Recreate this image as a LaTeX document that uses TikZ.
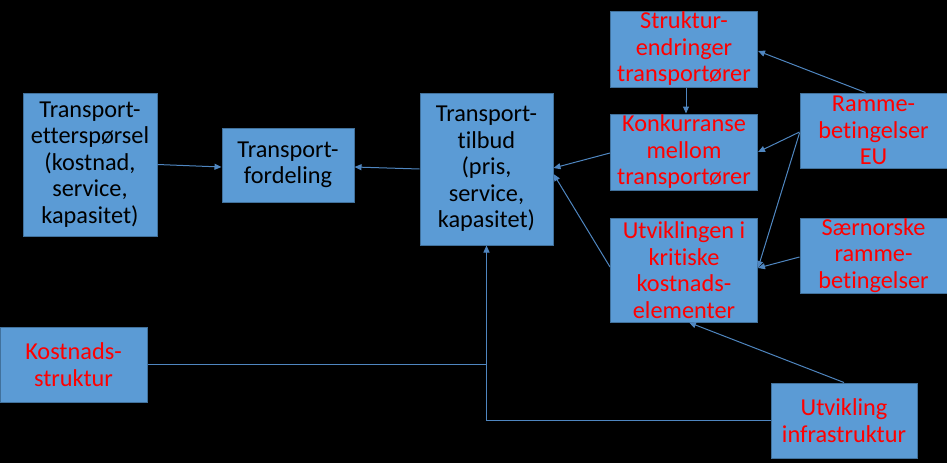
\documentclass[tikz,border=0pt]{standalone}
\usepackage{fontspec}
\setmainfont{Carlito}[Ligatures=NoCommon]
\usetikzlibrary{arrows.meta,calc}
\definecolor{boxfill}{HTML}{5B9BD5}
\definecolor{boxline}{HTML}{41719C}
\definecolor{conn}{HTML}{4F86C0}
\definecolor{redtxt}{HTML}{FF0000}
\tikzset{
  box/.style={draw=boxline, fill=boxfill, line width=1pt, inner sep=0pt},
  txt/.style={inner sep=0pt, align=center, font=\fontsize{24.3}{26.5}\selectfont},
  blk/.style={txt, text=black},
  rd/.style={txt, text=redtxt},
  conline/.style={draw=conn, line width=1pt},
  arr/.style={conline, -{Triangle[length=7pt,width=6pt]}}
}
\begin{document}
\begin{tikzpicture}[x=1pt,y=-1pt]
\fill[black] (0,0) rectangle (947,463);
\useasboundingbox (0,0) rectangle (947,463);
% boxes
\node[box, minimum width=134pt, minimum height=143pt] (ett) at (90,164.5) {};
\node[blk] (ettT) at (ett.center) {Transport-\\etterspørsel\\(kostnad,\\service,\\kapasitet)};
\node[box, minimum width=132pt, minimum height=74pt] (ford) at (288,165) {};
\node[blk] (fordT) at (ford.center) {Transport-\\fordeling};
\node[box, minimum width=133pt, minimum height=152pt] (tilb) at (486.5,169) {};
\node[blk] (tilbT) at (tilb.center) {Transport-\\tilbud\\(pris,\\service,\\kapasitet)};
\node[box, minimum width=147pt, minimum height=76pt] (strk) at (684,49) {};
\node[rd] (strkT) at (strk.center) {Struktur-\\endringer\\transportører};
\node[box, minimum width=147pt, minimum height=76pt] (konk) at (684,152) {};
\node[rd] (konkT) at (konk.center) {Konkurranse\\mellom\\transportører};
\node[box, minimum width=147pt, minimum height=104pt] (utv) at (684,270) {};
\node[rd] (utvT) at (utv.center) {Utviklingen i\\kritiske\\kostnads-\\elementer};
\node[box, minimum width=147pt, minimum height=75pt] (ramme) at (873.5,130.5) {};
\node[rd] (rammeT) at (ramme.center) {Ramme-\\betingelser\\EU};
\node[box, minimum width=147pt, minimum height=75pt] (saer) at (873.5,255.5) {};
\node[rd] (saerT) at (saer.center) {Særnorske\\ramme-\\betingelser};
\node[box, minimum width=147pt, minimum height=75pt] (kost) at (73.5,364.5) {};
\node[rd] (kostT) at (kost.center) {Kostnads-\\struktur};
\node[box, minimum width=146pt, minimum height=75pt] (infra) at (844,420.5) {};
\node[rd] (infraT) at (infra.center) {Utvikling\\infrastruktur};
% connectors
\draw[arr] (ett.east) -- ([yshift=-2pt]ford.west);
\draw[arr] (tilb.west) -- ([yshift=-2pt]ford.east);
\draw[arr] ([xshift=2pt]strk.south) -- ([xshift=2pt]konk.north);
\draw[arr] ([xshift=-8pt]ramme.north) -- ([yshift=-2pt]strk.east);
\draw[arr] ([yshift=-1.5pt]ramme.west) -- (konk.east);
\draw[arr] ([yshift=-2.5pt]ramme.west) -- ([yshift=2pt]utv.east);
\draw[arr] ([yshift=-1.5pt]saer.west) -- ([yshift=2pt]utv.east);
\draw[arr] ([yshift=-1pt]konk.west) -- ([yshift=1pt]tilb.east);
\draw[arr] ([yshift=3pt]utv.west) -- ([yshift=-5pt]tilb.east);
\draw[arr] (infra.north) -- ([xshift=5pt]utv.south);
\coordinate (j) at (tilb.south |- kost.east);
\draw[conline] (kost.east) -- (j);
\draw[arr] (infra.west) -| (tilb.south);
\end{tikzpicture}
\end{document}
